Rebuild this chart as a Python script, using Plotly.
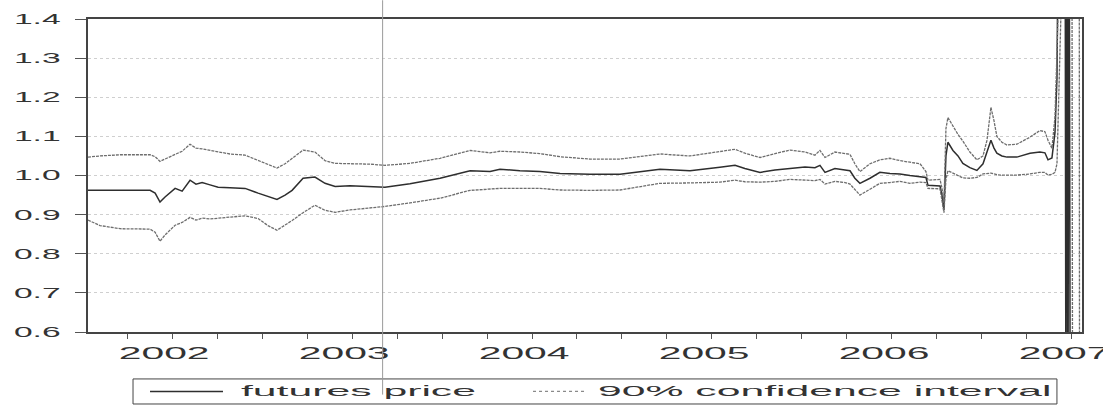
import plotly.graph_objects as go

# Time axis in decimal years (weekly-ish sampling of the contract history)
t = [2001.533, 2001.600, 2001.711, 2001.878, 2001.906, 2001.933, 2001.961, 2002.017,
     2002.056, 2002.100, 2002.133, 2002.167, 2002.211, 2002.256, 2002.322, 2002.406,
     2002.478, 2002.533, 2002.583, 2002.628, 2002.667, 2002.728, 2002.794, 2002.850,
     2002.906, 2002.989, 2003.100, 2003.183, 2003.322, 2003.489, 2003.656, 2003.767,
     2003.822, 2003.933, 2004.044, 2004.156, 2004.322, 2004.489, 2004.711, 2004.878,
     2005.044, 2005.128, 2005.183, 2005.267, 2005.350, 2005.433, 2005.517, 2005.572,
     2005.600, 2005.628, 2005.683, 2005.739, 2005.767, 2005.794, 2005.822, 2005.878,
     2005.933, 2005.989, 2006.044, 2006.100, 2006.156, 2006.189, 2006.200, 2006.267,
     2006.278, 2006.289, 2006.300, 2006.311, 2006.339, 2006.367, 2006.394, 2006.433,
     2006.472, 2006.506, 2006.528, 2006.550, 2006.567, 2006.583, 2006.611, 2006.639,
     2006.694, 2006.767, 2006.822, 2006.850, 2006.867, 2006.889, 2006.906, 2006.917,
     2006.928, 2006.944, 2006.961, 2006.967, 2006.972, 2006.978, 2006.983, 2006.989,
     2006.994, 2007.000, 2007.006, 2007.022, 2007.039, 2007.044, 2007.050]

futures_price = [0.962, 0.962, 0.962, 0.962, 0.955, 0.932, 0.945, 0.967,
                 0.960, 0.988, 0.978, 0.982, 0.976, 0.970, 0.969, 0.967,
                 0.955, 0.946, 0.939, 0.950, 0.962, 0.993, 0.996, 0.980,
                 0.972, 0.974, 0.971, 0.970, 0.979, 0.993, 1.012, 1.010,
                 1.016, 1.012, 1.010, 1.005, 1.003, 1.003, 1.016, 1.012,
                 1.021, 1.026, 1.018, 1.008, 1.014, 1.018, 1.022, 1.020,
                 1.026, 1.008, 1.018, 1.014, 1.012, 0.993, 0.980, 0.993,
                 1.008, 1.005, 1.004, 1.000, 0.998, 0.995, 0.975, 0.973,
                 0.950, 0.911, 1.050, 1.085, 1.064, 1.050, 1.031, 1.020,
                 1.013, 1.030, 1.060, 1.090, 1.070, 1.057, 1.050, 1.047,
                 1.047, 1.057, 1.060, 1.058, 1.040, 1.045, 1.110, 1.250,
                 1.900, 1.700, 2.100, 0.200, 2.300, 0.100, 2.200, 0.000,
                 -0.500, -0.700, -0.800, -0.900, -1.000, -1.000, -1.000]

ci_upper = [1.047, 1.050, 1.053, 1.053, 1.048, 1.036, 1.042, 1.055,
            1.062, 1.080, 1.070, 1.068, 1.064, 1.060, 1.055, 1.052,
            1.039, 1.028, 1.019, 1.030, 1.044, 1.065, 1.060, 1.038,
            1.031, 1.030, 1.029, 1.026, 1.031, 1.044, 1.064, 1.058,
            1.062, 1.060, 1.056, 1.048, 1.042, 1.042, 1.055, 1.050,
            1.060, 1.067, 1.057, 1.046, 1.056, 1.065, 1.060, 1.052,
            1.064, 1.046, 1.060, 1.056, 1.054, 1.030, 1.010, 1.030,
            1.040, 1.044, 1.038, 1.034, 1.030, 1.010, 0.988, 0.990,
            0.968, 0.930, 1.120, 1.148, 1.125, 1.105, 1.088, 1.060,
            1.040, 1.050, 1.090, 1.174, 1.140, 1.100, 1.085, 1.078,
            1.080, 1.098, 1.115, 1.112, 1.090, 1.070, 1.150, 1.600,
            2.400, 2.600, 2.800, 2.900, 2.900, 2.900, 2.900, 2.900,
            2.900, 2.900, 2.900, 2.900, 3.000, -1.000, -1.200]

ci_lower = [0.886, 0.872, 0.864, 0.863, 0.855, 0.832, 0.848, 0.873,
            0.880, 0.893, 0.886, 0.891, 0.889, 0.891, 0.894, 0.897,
            0.890, 0.872, 0.860, 0.873, 0.885, 0.905, 0.924, 0.911,
            0.906, 0.912, 0.917, 0.921, 0.930, 0.942, 0.962, 0.965,
            0.967, 0.967, 0.967, 0.963, 0.962, 0.963, 0.980, 0.981,
            0.983, 0.988, 0.984, 0.983, 0.985, 0.990, 0.988, 0.987,
            0.990, 0.978, 0.985, 0.982, 0.978, 0.963, 0.950, 0.965,
            0.980, 0.982, 0.985, 0.980, 0.983, 0.982, 0.967, 0.966,
            0.940, 0.905, 0.990, 1.012, 1.006, 1.000, 0.994, 0.993,
            0.995, 1.004, 1.005, 1.006, 1.004, 1.002, 1.001, 1.001,
            1.001, 1.004, 1.008, 1.008, 1.001, 1.003, 1.008, 1.030,
            1.250, 1.500, 1.600, 1.800, 1.800, 1.900, 1.900, 1.800,
            1.700, 1.700, -0.500, -0.800, -0.900, -1.000, -1.000]

year_ticks = [2002, 2003, 2004, 2005, 2006, 2007]
year_labels = ["2002", "2003", "2004", "2005", "2006", "2007"]

series_names = ["futures price", "90% confidence interval"]

FONT = "Liberation Sans, Arial, sans-serif"
INK = "#333333"
PRICE_LINE = dict(color="#2e2e2e", width=1.5)
CI_LINE = dict(color="#6e6e6e", width=1.3, dash="3px,1px")
CI_KEY = dict(color="#8a8a8a", width=1.2, dash="dot")

fig = go.Figure()
fig.add_trace(go.Scatter(x=t, y=futures_price, mode="lines",
                         name=series_names[0], line=PRICE_LINE))
fig.add_trace(go.Scatter(x=t, y=ci_upper, mode="lines",
                         name=series_names[1], line=CI_LINE))
fig.add_trace(go.Scatter(x=t, y=ci_lower, mode="lines",
                         name=series_names[1], line=CI_LINE))

# thin rule marking early March 2003
fig.add_shape(type="line", xref="x", yref="paper",
              x0=2003.17, x1=2003.17, y0=-0.2, y1=1.06,
              line=dict(color="#9a9a9a", width=1), layer="above")

# boxed key below the axis
key_top, key_bottom, key_mid = -0.150, -0.230, -0.190
fig.add_shape(type="rect", xref="paper", yref="paper",
              x0=0.0453, x1=0.9748, y0=key_bottom, y1=key_top,
              line=dict(color="#444444", width=1), fillcolor="white", layer="below")
fig.add_shape(type="line", xref="paper", yref="paper",
              x0=0.0624, x1=0.1358, y0=key_mid, y1=key_mid, line=PRICE_LINE)
fig.add_shape(type="line", xref="paper", yref="paper",
              x0=0.4477, x1=0.5020, y0=key_mid, y1=key_mid, line=CI_KEY)
for x_left, label in zip([0.1529, 0.5121], series_names):
    fig.add_annotation(xref="paper", yref="paper", x=x_left, y=key_mid,
                       xanchor="left", yanchor="middle", align="left",
                       text=label, showarrow=False, borderpad=0,
                       font=dict(family=FONT, size=14, color=INK))

fig.update_layout(
    width=1103, height=406,
    margin=dict(l=88, r=21, t=19, b=74, autoexpand=False),
    paper_bgcolor="white", plot_bgcolor="white",
    font=dict(family=FONT, color=INK, size=14),
    showlegend=False,
)

fig.update_xaxes(
    range=[2001.533, 2007.056],
    tickvals=year_ticks, ticktext=year_labels,
    ticks="outside", ticklen=5, tickcolor="#555555",
    minor=dict(dtick=0.25, tick0=2002, ticks="outside", ticklen=5, tickcolor="#555555"),
    showgrid=False, zeroline=False,
    showline=True, mirror=True, linecolor="#444444", linewidth=1.5,
    tickfont=dict(family=FONT, size=16, color=INK),
    ticklabelstandoff=1, ticklabelshift=-8,
)
fig.update_yaxes(
    range=[0.6, 1.4], dtick=0.1, tick0=0.6, tickformat=".1f",
    ticks="outside", ticklen=11, tickcolor="#555555",
    showgrid=True, gridcolor="#cfcfcf", griddash="dot", gridwidth=1,
    zeroline=False,
    showline=True, mirror=True, linecolor="#444444", linewidth=1.5,
    tickfont=dict(family=FONT, size=14, color=INK),
    ticklabelstandoff=12,
)

# widen the label glyphs horizontally: each label is re-anchored at its start
# so the stretch runs rightwards from a computed left edge
stretch_js = """
var gd = document.getElementById('{plot_id}');
function widen(el, k, keep){
  var b0 = el.getBBox();
  var w = el.getComputedTextLength();
  var L = w * k;
  var left;
  if (keep === 'left') left = b0.x;
  else if (keep === 'right') left = b0.x + b0.width - L;
  else left = b0.x + b0.width / 2 - L / 2;
  el.style.textAnchor = 'start';
  el.setAttribute('text-anchor', 'start');
  el.setAttribute('x', left.toFixed(1));
  el.setAttribute('textLength', L.toFixed(1));
  el.setAttribute('lengthAdjust', 'spacingAndGlyphs');
}
gd.querySelectorAll('.xtick text').forEach(function(el){ widen(el, 2.55, 'center'); });
gd.querySelectorAll('.ytick text').forEach(function(el){ widen(el, 2.4, 'right'); });
gd.querySelectorAll('.annotation-text').forEach(function(el){ widen(el, 3.05, 'left'); });
"""

fig.write_html("out.html", post_script=stretch_js)
